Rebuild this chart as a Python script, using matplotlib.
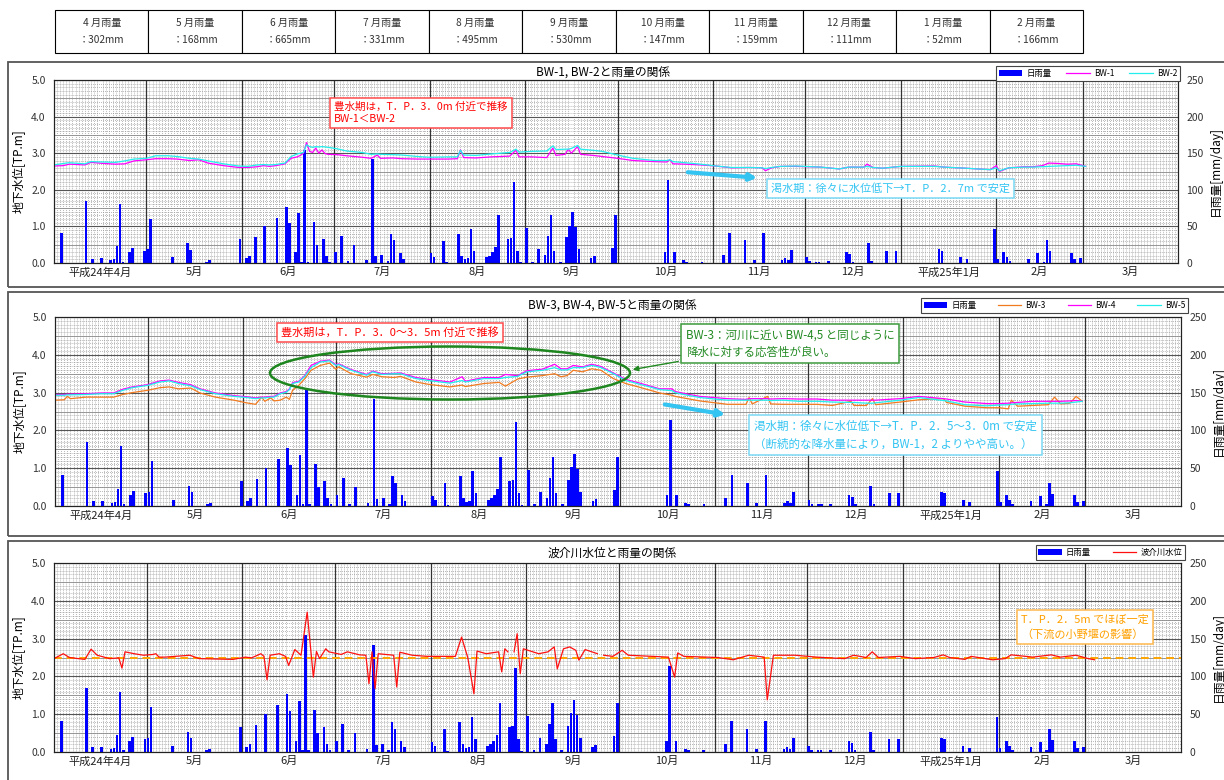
import matplotlib.pyplot as plt
import numpy as np
import pandas as pd
from matplotlib.patches import Rectangle, Ellipse, FancyArrowPatch

plt.rcParams['font.family'] = ['Noto Sans CJK JP', 'DejaVu Sans']

# ---------------- data (x = days since 2012-04-01) ----------------
tbl_month = [4, 5, 6, 7, 8, 9, 10, 11, 12, 1, 2]
tbl_rain = [302, 168, 665, 331, 495, 530, 147, 159, 111, 52, 166]

month_labels = ['平成24年4月', '5月', '6月', '7月', '8月', '9月', '10月', '11月',
                '12月', '平成25年1月', '2月', '3月']

# daily rainfall [mm/day]
rain_day = [2, 10, 12, 15, 18, 19, 20, 21, 22, 24, 25, 29,
            30, 31, 38, 43, 44, 49, 50, 60,
            62, 63, 65, 68, 72, 75, 76, 78, 79, 80, 81, 82, 84, 85, 87, 88, 89,
            91, 93, 95, 97, 101, 103, 104, 106, 108, 109, 110, 112, 113,
            122, 123, 126, 127, 131, 132, 133, 134, 135, 136, 140, 141, 142, 143, 144, 147, 148, 149, 150, 151,
            153, 155, 157, 159, 160, 161, 162, 164, 166, 167, 168, 169, 170, 174, 175, 181, 182,
            198, 199, 201, 204, 205, 210,
            217, 219, 224, 227, 230, 236, 237, 238, 239,
            244, 245, 247, 248, 251, 257, 258, 259, 264, 265, 270, 273,
            287, 288, 294, 296,
            305, 306, 308, 309, 310, 316, 319, 321, 322, 323, 330, 331, 333]
rain_mm = [41, 85, 6, 7, 4, 5, 23, 80, 2, 15, 20, 17,
           19, 60, 8, 27, 18, 2, 4, 33,
           7, 10, 36, 50, 62, 77, 54, 15, 68, 2, 155, 2, 56, 25, 33, 10, 2,
           15, 37, 3, 25, 4, 142, 9, 11, 3, 40, 31, 14, 6,
           13, 8, 30, 1, 40, 10, 5, 7, 46, 17, 8, 10, 15, 22, 65, 33, 34, 111, 17, 1,
           48, 2, 19, 11, 37, 65, 17, 2, 35, 51, 69, 49, 19, 7, 9, 21, 65,
           15, 114, 15, 4, 2, 2,
           11, 41, 31, 4, 41, 4, 7, 4, 18,
           8, 3, 2, 2, 3, 15, 12, 2, 27, 3, 17, 17,
           19, 17, 8, 5,
           46, 5, 15, 8, 3, 6, 13, 2, 31, 16, 14, 5, 7]

# BW-1 / BW-2 groundwater level [TP.m]
p1_day = [0, 3, 5, 10, 12, 16, 20, 23, 26, 30,
          33, 37, 40, 44, 47, 50, 55, 60, 63, 66,
          68, 70, 72, 75, 77, 79, 80, 81, 82, 83,
          84, 85, 86, 87, 88, 89, 92, 95, 100, 103,
          105, 106, 110, 113, 118, 122, 128, 131, 132, 133,
          137, 142, 145, 148, 150, 151, 155, 160, 162, 163,
          166, 167, 168, 170, 171, 175, 178, 183, 188, 195,
          199, 200, 201, 205, 210, 215, 220, 226, 230, 231,
          233, 236, 241, 249, 255, 258, 263, 264, 266, 269,
          275, 286, 289, 296, 304, 306, 307, 310, 315, 318,
          321, 323, 326, 329, 332, 335]
bw1 = [2.65, 2.66, 2.70, 2.68, 2.75, 2.72, 2.70, 2.71, 2.79, 2.82,
       2.85, 2.85, 2.84, 2.80, 2.82, 2.73, 2.66, 2.61, 2.61, 2.63,
       2.66, 2.64, 2.66, 2.71, 2.86, 2.90, 2.94, 3.00, 3.29, 3.05,
       3.02, 3.14, 3.00, 3.09, 2.99, 2.97, 2.96, 2.93, 2.89, 2.86,
       2.95, 2.86, 2.87, 2.85, 2.84, 2.84, 2.84, 2.85, 3.09, 2.88,
       2.87, 2.90, 2.91, 2.92, 3.08, 2.90, 2.90, 2.88, 3.14, 2.94,
       2.97, 3.11, 3.00, 3.18, 2.97, 2.94, 2.91, 2.86, 2.80, 2.77,
       2.76, 2.82, 2.71, 2.70, 2.68, 2.65, 2.60, 2.61, 2.60, 2.52,
       2.60, 2.64, 2.64, 2.62, 2.57, 2.62, 2.62, 2.70, 2.61, 2.59,
       2.64, 2.65, 2.62, 2.59, 2.55, 2.66, 2.50, 2.60, 2.63, 2.63,
       2.66, 2.73, 2.72, 2.70, 2.71, 2.64]
bw2 = [2.68, 2.72, 2.74, 2.71, 2.77, 2.76, 2.75, 2.79, 2.84, 2.86,
       2.93, 2.93, 2.91, 2.86, 2.84, 2.79, 2.71, 2.65, 2.64, 2.68,
       2.69, 2.68, 2.69, 2.73, 2.91, 2.98, 3.00, 3.02, 3.23, 3.18,
       3.16, 3.18, 3.17, 3.18, 3.17, 3.16, 3.12, 3.06, 3.02, 2.97,
       2.98, 2.97, 2.96, 2.95, 2.91, 2.89, 2.90, 2.90, 3.08, 2.95,
       2.94, 2.98, 3.00, 3.02, 3.11, 3.03, 3.05, 3.06, 3.20, 3.10,
       3.11, 3.11, 3.13, 3.21, 3.11, 3.08, 3.05, 2.95, 2.86, 2.80,
       2.80, 2.82, 2.77, 2.74, 2.70, 2.65, 2.61, 2.61, 2.60, 2.58,
       2.61, 2.64, 2.65, 2.62, 2.57, 2.62, 2.62, 2.64, 2.61, 2.59,
       2.64, 2.64, 2.62, 2.59, 2.55, 2.60, 2.52, 2.60, 2.62, 2.62,
       2.63, 2.64, 2.65, 2.66, 2.67, 2.64]

# BW-3 / BW-4 / BW-5 groundwater level [TP.m]
p2_day = [0, 3, 4, 5, 10, 15, 19, 22, 25, 30,
          34, 37, 40, 44, 47, 52, 58, 62, 65, 67,
          68, 70, 71, 73, 75, 76, 77, 79, 81, 83,
          86, 89, 91, 92, 96, 101, 103, 106, 110, 112,
          117, 121, 128, 132, 133, 139, 144, 146, 150, 153,
          158, 162, 164, 166, 168, 171, 174, 177, 181, 185,
          190, 196, 200, 201, 205, 209, 215, 218, 224, 225,
          226, 231, 232, 236, 241, 247, 252, 258, 259, 263,
          265, 266, 274, 280, 288, 289, 295, 302, 306, 309,
          310, 312, 317, 322, 324, 326, 329, 331, 333]
bw3 = [2.80, 2.81, 2.90, 2.84, 2.88, 2.88, 2.88, 2.95, 3.00, 3.06,
       3.13, 3.15, 3.10, 3.12, 2.99, 2.88, 2.80, 2.73, 2.69, 2.88,
       2.77, 2.86, 2.78, 2.80, 2.88, 2.82, 3.06, 3.19, 3.37, 3.59,
       3.72, 3.78, 3.62, 3.68, 3.50, 3.41, 3.48, 3.42, 3.40, 3.43,
       3.28, 3.22, 3.15, 3.20, 3.16, 3.24, 3.27, 3.17, 3.36, 3.41,
       3.45, 3.50, 3.42, 3.45, 3.59, 3.55, 3.63, 3.59, 3.37, 3.24,
       3.13, 2.99, 2.93, 2.90, 2.84, 2.78, 2.72, 2.69, 2.69, 2.87,
       2.70, 2.90, 2.70, 2.69, 2.69, 2.69, 2.66, 2.77, 2.66, 2.66,
       2.84, 2.68, 2.75, 2.81, 2.84, 2.74, 2.64, 2.60, 2.60, 2.57,
       2.80, 2.64, 2.66, 2.68, 2.88, 2.70, 2.72, 2.90, 2.77]
bw4 = [2.95, 2.95, 2.96, 2.96, 2.97, 2.99, 2.99, 3.09, 3.15, 3.21,
       3.31, 3.33, 3.27, 3.21, 3.10, 2.99, 2.92, 2.89, 2.86, 2.88,
       2.88, 2.90, 2.90, 2.99, 3.03, 3.10, 3.26, 3.30, 3.45, 3.72,
       3.83, 3.86, 3.74, 3.76, 3.61, 3.48, 3.57, 3.50, 3.51, 3.52,
       3.40, 3.35, 3.28, 3.42, 3.30, 3.40, 3.40, 3.48, 3.45, 3.58,
       3.62, 3.75, 3.63, 3.63, 3.72, 3.68, 3.75, 3.69, 3.52, 3.35,
       3.24, 3.10, 3.10, 3.03, 2.96, 2.90, 2.86, 2.84, 2.82, 2.84,
       2.84, 2.84, 2.83, 2.84, 2.83, 2.83, 2.80, 2.80, 2.80, 2.80,
       2.80, 2.80, 2.84, 2.90, 2.84, 2.83, 2.75, 2.71, 2.71, 2.72,
       2.73, 2.74, 2.77, 2.77, 2.77, 2.77, 2.78, 2.79, 2.77]
bw5 = [2.93, 2.93, 2.94, 2.94, 2.95, 2.97, 2.97, 3.06, 3.13, 3.19,
       3.28, 3.31, 3.24, 3.18, 3.08, 2.97, 2.90, 2.87, 2.84, 2.86,
       2.86, 2.88, 2.88, 2.97, 3.01, 3.08, 3.24, 3.28, 3.43, 3.66,
       3.81, 3.84, 3.72, 3.74, 3.59, 3.46, 3.55, 3.48, 3.50, 3.50,
       3.37, 3.32, 3.25, 3.32, 3.28, 3.37, 3.37, 3.40, 3.43, 3.55,
       3.59, 3.66, 3.60, 3.60, 3.66, 3.66, 3.72, 3.66, 3.50, 3.32,
       3.21, 3.08, 3.05, 3.00, 2.93, 2.87, 2.82, 2.80, 2.80, 2.80,
       2.80, 2.80, 2.79, 2.80, 2.77, 2.77, 2.75, 2.74, 2.74, 2.72,
       2.72, 2.73, 2.80, 2.87, 2.79, 2.78, 2.68, 2.65, 2.67, 2.68,
       2.69, 2.70, 2.71, 2.72, 2.72, 2.72, 2.73, 2.75, 2.77]

# 波介川 river level [TP.m]  (nan = no record)
riv_day = [0, 3, 5, 10, 12, 14, 18, 21, 22, 23,
           26, 29, 32, 33, 34, 36, 44, 47, 58, 62,
           64, 67, 68, 69, 70, 73, 75, 76, 78, 80,
           82, 84, 85, 86, 88, 89, 93, 95, 99, 101,
           102, 103, 104, 105, 110, 111, 112, 116, 121, 130,
           132, 134, 136, 137, 140, 144, 145, 146, 147, 148,
           149, 150, 151, 152, 157, 160, 162, 163, 165, 167,
           169, 170, 172, 176, 177, 178, 181, 184, 186, 199,
           201, 202, 204, 215, 220, 225, 230, 231, 233, 240,
           247, 256, 259, 263, 265, 267, 274, 279, 285, 288,
           290, 295, 297, 304, 308, 310, 317, 323, 326, 331,
           335, 337]
riv_lv = [2.47, 2.60, 2.50, 2.45, 2.72, 2.56, 2.47, 2.49, 2.22, 2.65,
          2.60, 2.56, 2.58, 2.60, 2.51, 2.51, 2.56, 2.47, 2.45, 2.51,
          2.49, 2.60, 2.53, 1.91, 2.56, 2.60, 2.53, 2.29, 2.71, 2.56,
          3.70, 1.98, 2.66, 2.47, 2.73, 2.65, 2.58, 2.65, 2.57, 2.56,
          1.81, 2.65, 1.68, 2.60, 2.56, 1.72, 2.64, 2.56, 2.53, 2.53,
          3.04, 2.50, 1.54, 2.67, 2.60, 2.65, 2.12, 2.73, 2.65, np.nan,
          2.65, 3.13, 2.07, 2.73, 2.60, 2.65, 2.78, 2.20, 2.73, 2.78,
          2.69, 2.43, 2.71, 2.60, np.nan, 2.56, 2.53, 2.69, 2.56, 2.51,
          1.98, 2.62, 2.53, 2.50, 2.44, 2.56, 2.51, 1.38, 2.56, 2.56,
          2.51, 2.47, 2.56, 2.50, 2.65, 2.50, 2.53, 2.47, 2.50, 2.57,
          2.50, 2.45, 2.53, 2.44, 2.47, 2.57, 2.51, 2.57, 2.51, 2.56,
          2.47, 2.44]
weir_level = 2.5

assert len(rain_day) == len(rain_mm)
assert len(p1_day) == len(bw1) == len(bw2)
assert len(p2_day) == len(bw3) == len(bw4) == len(bw5)
assert len(riv_day) == len(riv_lv)

# ---------------- layout helpers (image pixels -> figure fraction) ----------------
W, H = 1224, 780
fig = plt.figure(figsize=(W / 100, H / 100), dpi=100)


def fx(x):
    return x / W


def fy(y):
    return 1 - y / H


def rect(l, t, r, b):
    return [fx(l), fy(b), (r - l) / W, (b - t) / H]


start = pd.Timestamp('2012-04-01')
mstart = pd.date_range('2012-04-01', '2013-04-01', freq='MS')
bounds = np.array((mstart - start).days)
mids = (bounds[:-1] + bounds[1:]) / 2

C_BLUE = '#0000FF'
C_MAG = '#FF00FF'
C_CYAN = '#22EEEE'
C_ORANGE = '#F27B1F'
C_RED = '#FF1010'
C_NOTE_CYAN = '#33C4F2'
C_GREEN = '#238A23'


def panel(box):
    ax = fig.add_axes(rect(*box))
    ax.set_xlim(0, 365)
    ax.set_ylim(0, 250)
    ax.set_axisbelow(True)
    ax.set_xticks(mids, month_labels)
    ax.set_xticks(np.arange(0, 366), minor=True)
    ax.set_yticks(np.arange(0, 251, 50))
    ax.set_yticks(np.arange(0, 251, 5), minor=True)
    ax.grid(which='minor', color='#8f8f8f', ls=':', lw=0.55)
    ax.grid(which='major', axis='y', color='#555555', lw=0.8)
    ax.grid(which='major', axis='x', visible=False)
    for v in range(25, 250, 50):
        ax.axhline(v, color='#8c8c8c', lw=0.6, zorder=0.6)
    for b in bounds[1:-1]:
        ax.axvline(b, color='#333333', lw=0.9, zorder=0.7)
    ax.bar(rain_day, rain_mm, width=0.85, align='edge', color=C_BLUE, zorder=1)

    axw = ax.twinx()
    ax.yaxis.tick_right()
    ax.yaxis.set_label_position('right')
    axw.yaxis.tick_left()
    axw.yaxis.set_label_position('left')
    axw.set_ylim(0, 5)
    axw.set_yticks(range(6), ['%.1f' % v for v in range(6)])

    ax.tick_params(which='both', length=0)
    ax.tick_params(axis='x', labelsize=8, pad=3, colors='#222222')
    ax.tick_params(axis='y', labelsize=7.5, pad=6, colors='#333333')
    axw.tick_params(which='both', length=0, labelsize=7.5, pad=6, colors='#333333')
    ax.set_ylabel('日雨量[mm/day]', fontsize=8.5, labelpad=4)
    axw.set_ylabel('地下水位[TP.m]', fontsize=8.5, labelpad=4)
    for a in (ax, axw):
        for s in a.spines.values():
            s.set_linewidth(0.8)
            s.set_color('#222222')
    return ax, axw


def legend(axw, handles, labels, right, top, colsp):
    leg = axw.legend(handles, labels, ncol=len(labels), loc='upper right',
                     bbox_to_anchor=(fx(right), fy(top)), bbox_transform=fig.transFigure,
                     fontsize=6, frameon=True, fancybox=False, edgecolor='#444444',
                     framealpha=1, handlelength=2.8, columnspacing=colsp,
                     handletextpad=0.5, borderpad=0.35, borderaxespad=0)
    leg.get_frame().set_linewidth(0.8)
    leg.set_zorder(10)


def note(x, y, s, color, ec, ls=1.3, fs=8):
    fig.text(fx(x), fy(y), s, color=color, fontsize=fs, ha='left', va='top',
             linespacing=ls, zorder=20,
             bbox=dict(boxstyle='square,pad=0.4', fc='white', ec=ec, lw=1.1))


def arrow(x1, y1, x2, y2, color, lw, ms):
    fig.add_artist(FancyArrowPatch(
        (fx(x1), fy(y1)), (fx(x2), fy(y2)), transform=fig.transFigure,
        arrowstyle='-|>', mutation_scale=ms, color=color, lw=lw, zorder=20))


# ---------------- rainfall table ----------------
axt = fig.add_axes(rect(55, 10, 1083, 53))
axt.axis('off')
cells = [['%d 月雨量\n：%dmm' % (m, v) for m, v in zip(tbl_month, tbl_rain)]]
tb = axt.table(cellText=cells, cellLoc='center', bbox=[0, 0, 1, 1])
tb.auto_set_font_size(False)
tb.set_fontsize(7.3)
for c in tb.get_celld().values():
    c.set_linewidth(0.8)
    c.get_text().set_color('#333333')
    c.get_text().set_linespacing(1.9)

# ---------------- panel frames ----------------
for t, b in [(62, 287), (292, 536), (541, 790)]:
    fig.add_artist(Rectangle((fx(8), fy(b)), fx(1240) - fx(8), (b - t) / H,
                             transform=fig.transFigure, fill=False,
                             ec='#555555', lw=1.3))

# ---------------- panel 1 ----------------
ax1, aw1 = panel((54, 80, 1178, 263))
l1, = aw1.plot(p1_day, bw1, color=C_MAG, lw=0.9)
l2, = aw1.plot(p1_day, bw2, color=C_CYAN, lw=0.9)
fig.text(fx(603), fy(73), 'BW-1, BW-2と雨量の関係', ha='center', va='center', fontsize=8.5)
legend(aw1, [ax1.containers[0], l1, l2], ['日雨量', 'BW-1', 'BW-2'], 1180, 66, 1.8)
note(334, 102, '豊水期は，T．P．3．0m 付近で推移\nBW-1＜BW-2', '#FF0000', '#FF4a4a', 1.15, 7.6)
note(771, 183, '渇水期：徐々に水位低下→T．P．2．7m で安定', C_NOTE_CYAN, '#7ad8f5')
arrow(685, 172, 760, 178, C_NOTE_CYAN, 3, 10)

# ---------------- panel 2 ----------------
ax2, aw2 = panel((55, 317, 1181, 506))
l3, = aw2.plot(p2_day, bw3, color=C_ORANGE, lw=0.9)
l4, = aw2.plot(p2_day, bw4, color=C_MAG, lw=0.9)
l5, = aw2.plot(p2_day, bw5, color=C_CYAN, lw=0.9)
fig.text(fx(612), fy(306), 'BW-3, BW-4, BW-5と雨量の関係', ha='center', va='center', fontsize=8.5)
legend(aw2, [ax2.containers[0], l3, l4, l5], ['日雨量', 'BW-3', 'BW-4', 'BW-5'], 1188, 298, 2.6)
fig.add_artist(Ellipse((fx(450), fy(373)), 360 / W, 53 / H, transform=fig.transFigure,
                       fill=False, ec='#1E861E', lw=1.8, zorder=15))
note(281, 327, '豊水期は，T．P．3．0～3．5m 付近で推移', '#FF0000', '#FF4a4a')
note(686, 329, 'BW-3：河川に近い BW-4,5 と同じように\n降水に対する応答性が良い。', C_GREEN, '#3c9a3c', 1.35, 8.3)
arrow(681, 361, 630, 370, C_GREEN, 1, 8)
note(754, 420, '渇水期：徐々に水位低下→T．P．2．5～3．0m で安定\n（断続的な降水量により，BW-1，2 よりやや高い。）',
     C_NOTE_CYAN, '#7ad8f5', 1.45, 8.3)
arrow(662, 404, 728, 415, C_NOTE_CYAN, 3, 10)

# ---------------- panel 3 ----------------
ax3, aw3 = panel((54, 563, 1181, 752))
aw3.axhline(weir_level, color='#FFA500', lw=1.4, ls=(0, (4, 2.5)))
l6, = aw3.plot(riv_day, riv_lv, color=C_RED, lw=0.9)
fig.text(fx(612), fy(553), '波介川水位と雨量の関係', ha='center', va='center', fontsize=8.5)
legend(aw3, [ax3.containers[0], l6], ['日雨量', '波介川水位'], 1185, 545, 2.6)
note(1021, 614, 'T．P．2．5m でほぼ一定\n（下流の小野堰の影響）', '#FFA000', '#FFB84d', 1.55)

fig.savefig('out.png', dpi=100)
